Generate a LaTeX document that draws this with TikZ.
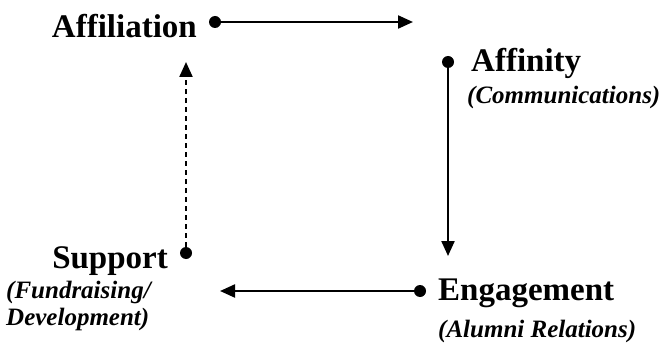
\documentclass[tikz,border=0pt]{standalone}
\usepackage{fontspec}
\setmainfont{Liberation Serif}
\usetikzlibrary{arrows.meta}
\begin{document}
\begin{tikzpicture}[x=1pt,y=-1pt,
  dot/.style={circle,fill=black,inner sep=0pt,minimum size=12pt},
  title/.style={inner sep=0pt,font=\fontsize{33}{38}\selectfont\bfseries},
  sub/.style={inner sep=0pt,font=\fontsize{25}{30}\selectfont\bfseries\itshape},
  link/.style={line width=2.2pt,-{Triangle[length=15pt,width=13pt]}},
  dlink/.style={link,dash pattern=on 5pt off 4pt}]
\useasboundingbox (0,0) rectangle (668,350);
% titles
\node[title,anchor=base east] (aff) at (197,38) {Affiliation};
\node[title,anchor=base west] (afn) at (471,72) {Affinity};
\node[sub,anchor=base west] (afns) at (467,103) {(Communications)};
\node[title,anchor=base west] (eng) at (438,300) {Engagement};
\node[sub,anchor=base west] (engs) at (438,337) {(Alumni Relations)};
\node[title,anchor=base east] (sup) at (168,268) {Support};
\node[sub,anchor=base west] (sups1) at (6,298) {(Fundraising/};
\node[sub,anchor=base west] (sups2) at (6,325) {Development)};
% dots
\node[dot] (d1) at (215,22) {};
\node[dot] (d2) at (448,62) {};
\node[dot] (d3) at (420,291) {};
\node[dot] (d4) at (186,253) {};
% free ends
\coordinate (e1) at (413,22);
\coordinate (e2) at (448,256);
\coordinate (e3) at (220,291);
\coordinate (e4) at (186,62);
% connectors
\draw[link] (d1.center) -- (e1);
\draw[link] (d2.center) -- (e2);
\draw[link] (d3.center) -- (e3);
\draw[dlink] (d4.north) -- (e4);
\end{tikzpicture}
\end{document}
